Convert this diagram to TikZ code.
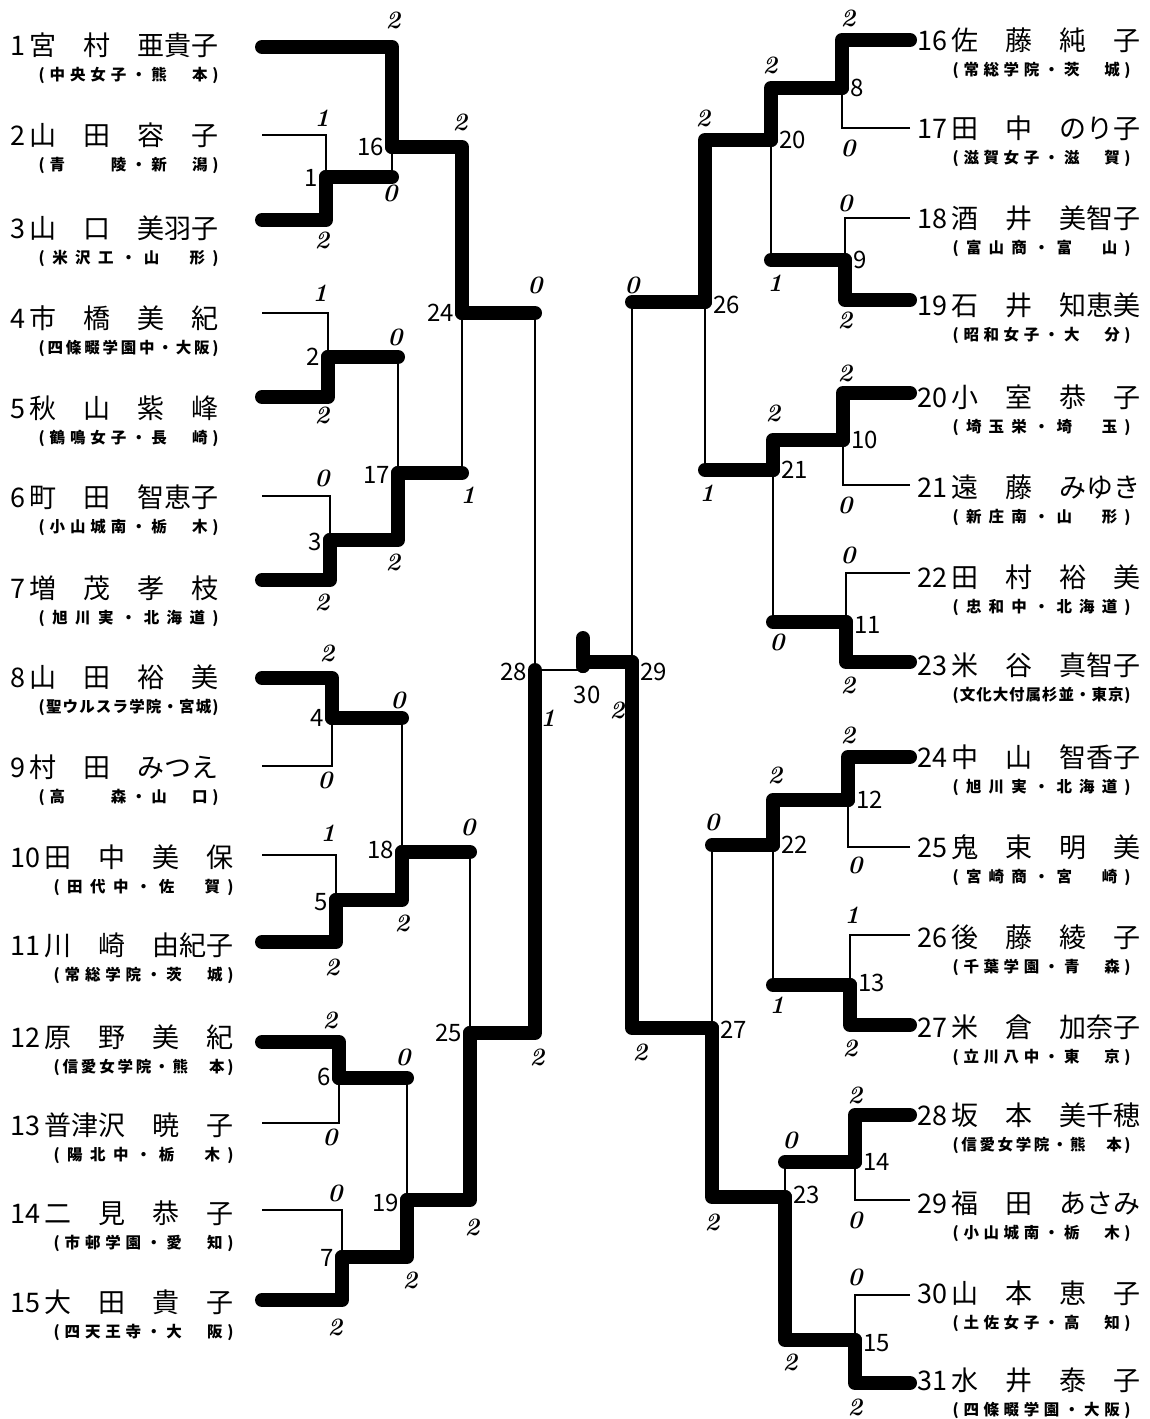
\documentclass[tikz,border=0pt]{standalone}
\usepackage{fontspec}
\newfontfamily\jpfont{Noto Sans CJK JP}
\usepackage{tikz}
% spread the characters of a school name over a fixed width
\def\spreadchars#1{#1\spreadnext}
\def\spreadnext#1{\ifx#1\relax\else\hfil#1\expandafter\spreadnext\fi}
\tikzset{
  win/.style={line width=14pt,line cap=round,line join=round},
  lose/.style={line width=1.4pt},
  pname/.style={font=\jpfont\fontsize{27}{27}\selectfont,inner sep=0pt},
  school/.style={font=\jpfont\bfseries\fontsize{15.5}{15.5}\selectfont,inner sep=0pt},
  mlabel/.style={font=\jpfont\fontsize{24}{24}\selectfont,inner sep=0pt},
  score/.style={font=\bfseries\itshape\fontsize{25}{25}\selectfont,inner sep=0pt}
}
\begin{document}
\begin{tikzpicture}[x=1pt,y=-1pt]
\useasboundingbox (0,0) rectangle (1149,1419);

% line ends of the players
\foreach \n/\y in {1/47,2/135,3/220,4/313,5/397,6/496,7/580,8/678,9/766,10/855,
                   11/942,12/1042,13/1123,14/1210,15/1300}
  \coordinate (p\n) at (262,\y);
\foreach \n/\y in {16/40,17/128,18/218,19/300,20/393,21/485,22/573,23/662,24/757,
                   25/847,26/935,27/1025,28/1115,29/1200,30/1295,31/1383}
  \coordinate (p\n) at (910,\y);

% bout junctions
\foreach \m/\x/\y in {1/326/177,2/328/357,3/330/540,4/332/718,5/336/900,6/339/1078,
                      7/342/1257,16/392/147,17/398/473,18/402/852,19/407/1200,
                      24/462/313,25/470/1033,28/535/670,
                      8/842/88,9/845/260,10/843/440,11/846/622,12/848/800,13/850/985,
                      14/855/1162,15/855/1340,20/771/140,21/773/470,22/773/845,
                      23/785/1197,26/705/302,27/712/1028,29/632/662,30/583/666}
  \coordinate (m\m) at (\x,\y);

% lost bouts
\foreach \a/\b in {p2/m1,p4/m2,p6/m3,p9/m4,p10/m5,p13/m6,p14/m7,p17/m8,p18/m9,
                   p21/m10,p22/m11,p25/m12,p26/m13,p29/m14,p30/m15,m28/m30}
  \draw[lose] (\a) -| (\b);
\foreach \a/\b in {m1/m16,m2/m17,m17/m24,m4/m18,m6/m19,m18/m25,m24/m28,m9/m20,
                   m11/m21,m21/m26,m13/m22,m14/m23,m22/m27,m26/m29}{
  \draw[lose] (\a) -| (\b);
  \draw[win] (\a) -- (\a -| \b);}

% won bouts
\foreach \a/\b in {p3/m1,p1/m16,p5/m2,p7/m3,m3/m17,m16/m24,p8/m4,p11/m5,m5/m18,
                   p12/m6,p15/m7,m7/m19,m19/m25,m25/m28,
                   p16/m8,p19/m9,m8/m20,p20/m10,p23/m11,m10/m21,m20/m26,p24/m12,
                   p27/m13,m12/m22,p28/m14,p31/m15,m15/m23,m23/m27,m27/m29,m29/m30}
  \draw[win] (\a) -| (\b);
\draw[win] (m30) -- ++(0,-28);

% bout numbers
\foreach \m/\x/\y/\a in {1/318/178/east,2/320/357/east,3/322/542/east,4/324/718/east,
                         5/328/902/east,6/331/1077/east,7/334/1258/east,16/384/147/east,
                         17/390/475/east,18/394/850/east,19/399/1203/east,
                         24/454/313/east,25/462/1033/east,28/527/672/east,
                         8/850/88/west,9/853/260/west,10/851/440/west,11/854/625/west,
                         12/856/800/west,13/858/983/west,14/863/1162/west,
                         15/863/1343/west,20/779/140/west,21/781/470/west,
                         22/781/845/west,23/793/1195/west,26/713/305/west,
                         27/720/1030/west,29/640/672/west,30/587/695/center}
  \node[mlabel,anchor=\a] (b\m) at (\x,\y) {\m};

% game scores
\foreach \x/\y/\s [count=\i] in {393/20/2,322/118/1,390/193/0,322/240/2,460/122/2,
    320/293/1,395/337/0,322/415/2,468/495/1,322/478/0,393/562/2,322/602/2,535/285/0,
    327/653/2,398/700/0,325/780/0,328/833/1,468/827/0,402/923/2,332/967/2,537/1057/2,
    330/1020/2,403/1057/0,330/1137/0,335/1193/0,472/1227/2,410/1280/2,335/1327/2,
    548/718/1,617/710/2,
    848/18/2,848/148/0,770/65/2,703/118/2,845/203/0,845/320/2,775/283/1,632/285/0,
    845/373/2,773/413/2,845/505/0,707/493/1,848/555/0,777/642/0,848/685/2,848/735/2,
    775/775/2,712/822/0,855/865/0,852/915/1,777/1005/1,850/1048/2,640/1052/2,
    855/1095/2,790/1140/0,855/1220/0,712/1222/2,855/1277/0,790/1362/2,855/1407/2}
  \node[score] (sc\i) at (\x,\y) {\s};

% players, left half
\foreach \n/\y/\nm/\sc in {
    1/45/宮　村　亜貴子/(中央女子・熊　本),
    2/135/山　田　容　子/(青　　陵・新　潟),
    3/228/山　口　美羽子/(米沢工・山　形),
    4/318/市　橋　美　紀/(四條畷学園中・大阪),
    5/408/秋　山　紫　峰/(鶴鳴女子・長　崎),
    6/497/町　田　智恵子/(小山城南・栃　木),
    7/588/増　茂　孝　枝/(旭川実・北海道),
    8/677/山　田　裕　美/(聖ウルスラ学院・宮城),
    9/767/村　田　みつえ/(高　　森・山　口),
    10/857/田　中　美　保/(田代中・佐　賀),
    11/945/川　崎　由紀子/(常総学院・茨　城),
    12/1037/原　野　美　紀/(信愛女学院・熊　本),
    13/1125/普津沢　暁　子/(陽北中・栃　木),
    14/1213/二　見　恭　子/(市邨学園・愛　知),
    15/1302/大　田　貴　子/(四天王寺・大　阪)}{
  \node[pname,anchor=west] (n\n) at (10,\y) {\n\,\nm};
  \node[school,anchor=east] (s\n) at ([yshift=-30pt]n\n.east)
    {\makebox[180pt][s]{\expandafter\spreadchars\sc\relax}};}

% players, right half
\foreach \n/\y/\nm/\sc in {
    16/40/佐　藤　純　子/(常総学院・茨　城),
    17/128/田　中　のり子/(滋賀女子・滋　賀),
    18/218/酒　井　美智子/(富山商・富　山),
    19/305/石　井　知恵美/(昭和女子・大　分),
    20/397/小　室　恭　子/(埼玉栄・埼　玉),
    21/487/遠　藤　みゆき/(新庄南・山　形),
    22/577/田　村　裕　美/(忠和中・北海道),
    23/665/米　谷　真智子/(文化大付属杉並・東京),
    24/757/中　山　智香子/(旭川実・北海道),
    25/847/鬼　束　明　美/(宮崎商・宮　崎),
    26/937/後　藤　綾　子/(千葉学園・青　森),
    27/1027/米　倉　加奈子/(立川八中・東　京),
    28/1115/坂　本　美千穂/(信愛女学院・熊　本),
    29/1203/福　田　あさみ/(小山城南・栃　木),
    30/1293/山　本　恵　子/(土佐女子・高　知),
    31/1380/水　井　泰　子/(四條畷学園・大阪)}{
  \node[pname,anchor=west] (n\n) at (917,\y) {\n\,\nm};
  \node[school,anchor=east] (s\n) at ([yshift=-30pt,xshift=-10pt]n\n.east)
    {\makebox[178pt][s]{\expandafter\spreadchars\sc\relax}};}
\end{tikzpicture}
\end{document}
